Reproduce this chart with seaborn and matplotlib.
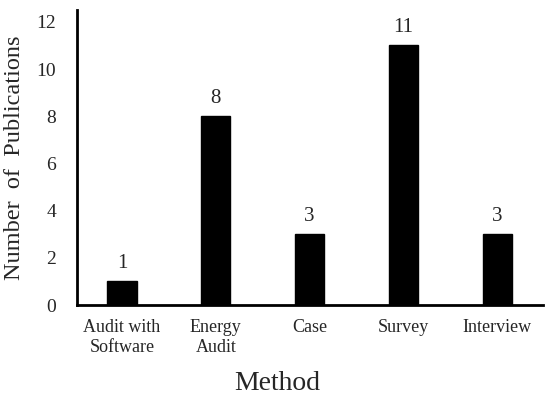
import matplotlib
matplotlib.use("Agg")
import matplotlib.pyplot as plt
import seaborn as sns
import pandas as pd

methods = ["Audit with\nSoftware", "Energy\nAudit", "Case", "Survey", "Interview"]
counts = [1, 8, 3, 11, 3]
yticks = [0, 2, 4, 6, 8, 10, 12]

sns.set_style("white")
plt.rcParams['font.family'] = ['Liberation Serif', 'DejaVu Serif']

df = pd.DataFrame({"Method": methods, "Count": counts})

fig = plt.figure(figsize=(5.5, 3.99), dpi=100)
ax = fig.add_axes([77/550, 1 - 305/399, (543-77)/550, (305-10)/399])
sns.barplot(data=df, x="Method", y="Count", color="black", width=0.31,
            saturation=1, ax=ax, edgecolor="black")
for i, v in enumerate(counts):
    ax.text(i, v + 0.35, str(v), ha="center", va="bottom", fontsize=15)

ax.set_ylim(0, 12.5)
ax.set_xlim(-0.48, 4.49)
ax.set_yticks(yticks)
ax.set_yticklabels([str(t) for t in yticks], fontsize=14)
ax.set_xticks(range(len(methods)))
ax.set_xticklabels(methods, fontsize=13, linespacing=1.25)
ax.tick_params(axis="x", length=0, pad=10)
ax.tick_params(axis="y", length=0, pad=15)
ax.set_xlabel("Method", fontsize=20)
ax.xaxis.set_label_coords(200/466, -(383-305)/295)
ax.xaxis.label.set_va("center")
ax.set_ylabel("Number  of  Publications", fontsize=17.5, labelpad=8)
for s in ["top", "right"]:
    ax.spines[s].set_visible(False)
for s in ["left", "bottom"]:
    ax.spines[s].set_color("black")
    ax.spines[s].set_linewidth(2)

fig.savefig("out.png", dpi=100)
